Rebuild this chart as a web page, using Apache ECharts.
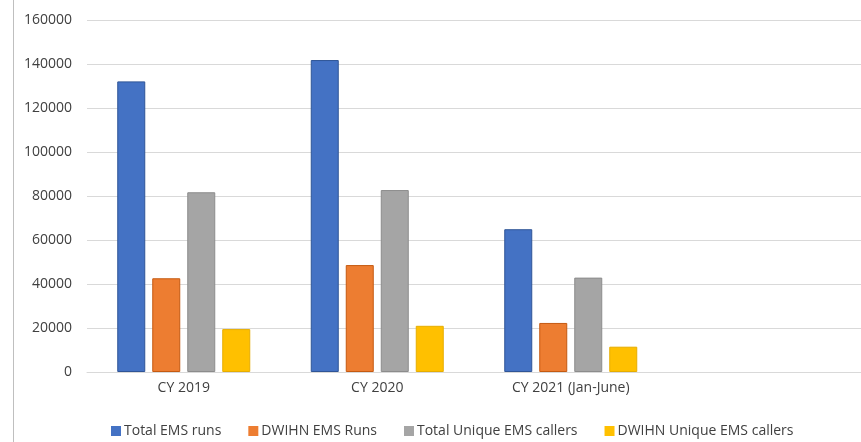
<!DOCTYPE html>
<html>
<head>
<meta charset="utf-8">
<script src="https://cdn.jsdelivr.net/npm/echarts@6/dist/echarts.min.js"></script>
<style>
  html, body { margin: 0; padding: 0; background: #fff; }
  #main { width: 861px; height: 442px; }
</style>
</head>
<body>
<div id="main"></div>
<script>
// categories (last slot is empty, as in the original sheet)
var categories = ['CY 2019', 'CY 2020', 'CY 2021 (Jan-June)', ''];
var seriesNames = ['Total EMS runs', 'DWIHN EMS Runs', 'Total Unique EMS callers', 'DWIHN Unique EMS callers'];
var totalRuns = [132100, 141800, 64900, null];
var dwihnRuns = [42600, 48600, 22300, null];
var totalCallers = [81700, 82700, 42900, null];
var dwihnCallers = [19500, 21000, 11500, null];
var yTicks = [0, 20000, 40000, 60000, 80000, 100000, 120000, 140000, 160000];

var colors = ['#4472C4', '#ED7D31', '#A5A5A5', '#FFC000'];
var borders = ['#2F5597', '#C55A11', '#8C8C8C', '#E6AD00'];

/**
 * one bar series, Excel look (thin darker outline)
 */
function makeSeries(i, data) {
	return {
		name: seriesNames[i],
		type: 'bar',
		data: data,
		barWidth: 28,
		barGap: '25%',
		itemStyle: {
			color: colors[i],
			borderColor: borders[i],
			borderWidth: 1
		}
	};
}

var myChart = echarts.init(document.getElementById('main'));
var option = {
	animation: false,
	textStyle: { fontFamily: 'Open Sans' },
	grid: { left: 87, right: -7, top: 20, bottom: 70 },
	legend: {
		left: 106,
		top: 419,
		itemWidth: 10,
		itemHeight: 10,
		itemGap: 27,
		icon: 'rect',
		itemStyle: { borderWidth: 0 },
		textStyle: { color: '#404040', fontSize: 14, fontFamily: 'Open Sans', padding: [0, 0, 0, -2] },
		data: seriesNames
	},
	xAxis: {
		type: 'category',
		data: categories,
		axisLine: { lineStyle: { color: '#D9D9D9', width: 1 } },
		axisTick: { show: false },
		axisLabel: { color: '#404040', fontSize: 14, margin: 9 }
	},
	yAxis: {
		type: 'value',
		min: yTicks[0],
		max: yTicks[yTicks.length - 1],
		interval: yTicks[1] - yTicks[0],
		axisLine: { show: false },
		axisTick: { show: false },
		axisLabel: {
			color: '#404040',
			fontSize: 14,
			margin: 15,
			formatter: function (v) { return String(v); }
		},
		splitLine: { lineStyle: { color: '#D9D9D9', width: 1 } }
	},
	graphic: [{
		type: 'line',
		shape: { x1: 13.5, y1: 0, x2: 13.5, y2: 442 },
		style: { stroke: '#BFBFBF', lineWidth: 1 }
	}],
	series: [
		makeSeries(0, totalRuns),
		makeSeries(1, dwihnRuns),
		makeSeries(2, totalCallers),
		makeSeries(3, dwihnCallers)
	]
};
myChart.setOption(option);
</script>
</body>
</html>
